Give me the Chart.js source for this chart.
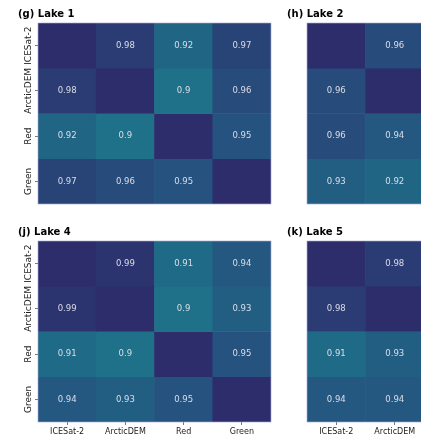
<!DOCTYPE html>
<html>
<head>
<meta charset="utf-8">
<script src="https://cdn.jsdelivr.net/npm/chart.js@4.4.1/dist/chart.umd.min.js"></script>
<style>
  html, body { margin: 0; padding: 0; background: #fff; overflow: hidden; width: 421px; height: 442px; }
  canvas { position: absolute; }
</style>
</head>
<body>
<canvas id="lake1" width="275" height="212" style="left:0px;top:0px"></canvas>
<canvas id="lake2" width="154" height="212" style="left:270px;top:0px"></canvas>
<canvas id="lake4" width="275" height="224" style="left:0px;top:218px"></canvas>
<canvas id="lake5" width="154" height="224" style="left:270px;top:218px"></canvas>
<script>
// variables compared in every panel (rows and columns)
const varLabels = ['ICESat-2', 'ArcticDEM', 'Red', 'Green'];

// correlation values (right panels are cut off after 2 columns)
const lake1 = [
  [1.00, 0.98, 0.92, 0.97],
  [0.98, 1.00, 0.90, 0.96],
  [0.92, 0.90, 1.00, 0.95],
  [0.97, 0.96, 0.95, 1.00]
];
const lake2 = [
  [1.00, 0.96],
  [0.96, 1.00],
  [0.96, 0.94],
  [0.93, 0.92]
];
const lake4 = [
  [1.00, 0.99, 0.91, 0.94],
  [0.99, 1.00, 0.90, 0.93],
  [0.91, 0.90, 1.00, 0.95],
  [0.94, 0.93, 0.95, 1.00]
];
const lake5 = [
  [1.00, 0.98],
  [0.98, 1.00],
  [0.91, 0.93],
  [0.94, 0.94]
];

// colour ramp: value -> rgb
const cmapStops = [
  [0.90, [30, 113, 137]],
  [0.95, [37, 82, 126]],
  [1.00, [45, 45, 107]]
];

function cmap(v) {
  for (let i = 1; i < cmapStops.length; i++) {
    const [v0, c0] = cmapStops[i - 1];
    const [v1, c1] = cmapStops[i];
    if (v <= v1 || i === cmapStops.length - 1) {
      const t = Math.max(0, Math.min(1, (v - v0) / (v1 - v0)));
      const c = c0.map((x, k) => Math.round(x + (c1[k] - x) * t));
      return 'rgb(' + c.join(',') + ')';
    }
  }
}

const FONT = 'DejaVu Sans';

function makeHeatmap(id, title, matrix, showRowLabels, showColLabels, padLeft, padRight) {
  const colLabels = varLabels.slice(0, matrix[0].length);

  const datasets = matrix.map((row, r) => ({
    label: varLabels[r],
    data: row.map(() => 1),
    backgroundColor: row.map(v => cmap(v)),
    borderWidth: 0,
    barPercentage: 1,
    categoryPercentage: 1
  }));

  // numbers inside the off-diagonal cells
  const cellText = {
    id: 'cellText',
    afterDatasetsDraw(chart) {
      const ctx = chart.ctx;
      ctx.save();
      ctx.font = '8.5px "' + FONT + '"';
      ctx.fillStyle = 'rgba(225,225,235,0.95)';
      ctx.textAlign = 'center';
      ctx.textBaseline = 'middle';
      matrix.forEach((row, r) => {
        const meta = chart.getDatasetMeta(r);
        row.forEach((v, c) => {
          if (r === c) return;
          const p = meta.data[c].getCenterPoint();
          ctx.fillText(String(v), p.x, p.y);
        });
      });
      ctx.restore();
    }
  };

  // rotated row labels on the left axis + thin frame
  const rowLabels = {
    id: 'rowLabels',
    afterDraw(chart) {
      const ctx = chart.ctx;
      const area = chart.chartArea;
      ctx.save();
      ctx.strokeStyle = 'rgba(165,170,215,0.8)';
      ctx.lineWidth = 0.8;
      ctx.strokeRect(area.left, area.top, area.right - area.left, area.bottom - area.top);
      if (showRowLabels) {
        const ys = chart.scales.y;
        ctx.font = '9px "' + FONT + '"';
        ctx.fillStyle = '#222';
        ctx.textAlign = 'center';
        ctx.textBaseline = 'middle';
        matrix.forEach((row, r) => {
          const y = ys.getPixelForValue(r + 0.5);
          ctx.save();
          ctx.translate(area.left - 9, y);
          ctx.rotate(-Math.PI / 2);
          ctx.fillText(varLabels[r], 0, 0);
          ctx.restore();
        });
      }
      ctx.restore();
    }
  };

  return new Chart(document.getElementById(id), {
    type: 'bar',
    data: { labels: colLabels, datasets: datasets },
    options: {
      responsive: false,
      animation: false,
      layout: { padding: { left: padLeft, right: padRight, top: 8, bottom: showColLabels ? 0 : 8 } },
      plugins: {
        legend: { display: false },
        tooltip: { enabled: false },
        title: {
          display: true,
          text: title,
          align: 'start',
          color: '#000',
          font: { family: FONT, size: 10, weight: 'bold' },
          padding: { top: 0, bottom: 3 }
        }
      },
      scales: {
        x: {
          type: 'category',
          stacked: true,
          display: showColLabels,
          offset: true,
          afterFit: s => { if (showColLabels) s.height = 20; },
          ticks: { font: { family: FONT, size: 8 }, color: '#222', padding: 2, maxRotation: 0, autoSkip: false },
          grid: { offset: false, drawOnChartArea: false, tickLength: 3, color: '#555', lineWidth: 0.8 },
          border: { display: false }
        },
        y: {
          type: 'linear',
          stacked: true,
          reverse: true,
          min: 0,
          max: matrix.length,
          afterBuildTicks: s => { s.ticks = matrix.map((_, i) => ({ value: i + 0.5 })); },
          afterFit: s => { s.width = 20; },
          ticks: { display: false },
          grid: { display: showRowLabels, drawOnChartArea: false, tickLength: 3, color: '#555', lineWidth: 0.8 },
          border: { display: false }
        }
      }
    },
    plugins: [cellText, rowLabels]
  });
}

makeHeatmap('lake1', '(g) Lake 1', lake1, true, false, 18, 4);
makeHeatmap('lake2', '(h) Lake 2', lake2, false, false, 17, 0);
makeHeatmap('lake4', '(j) Lake 4', lake4, true, true, 18, 4);
makeHeatmap('lake5', '(k) Lake 5', lake5, false, true, 17, 0);
</script>
</body>
</html>
